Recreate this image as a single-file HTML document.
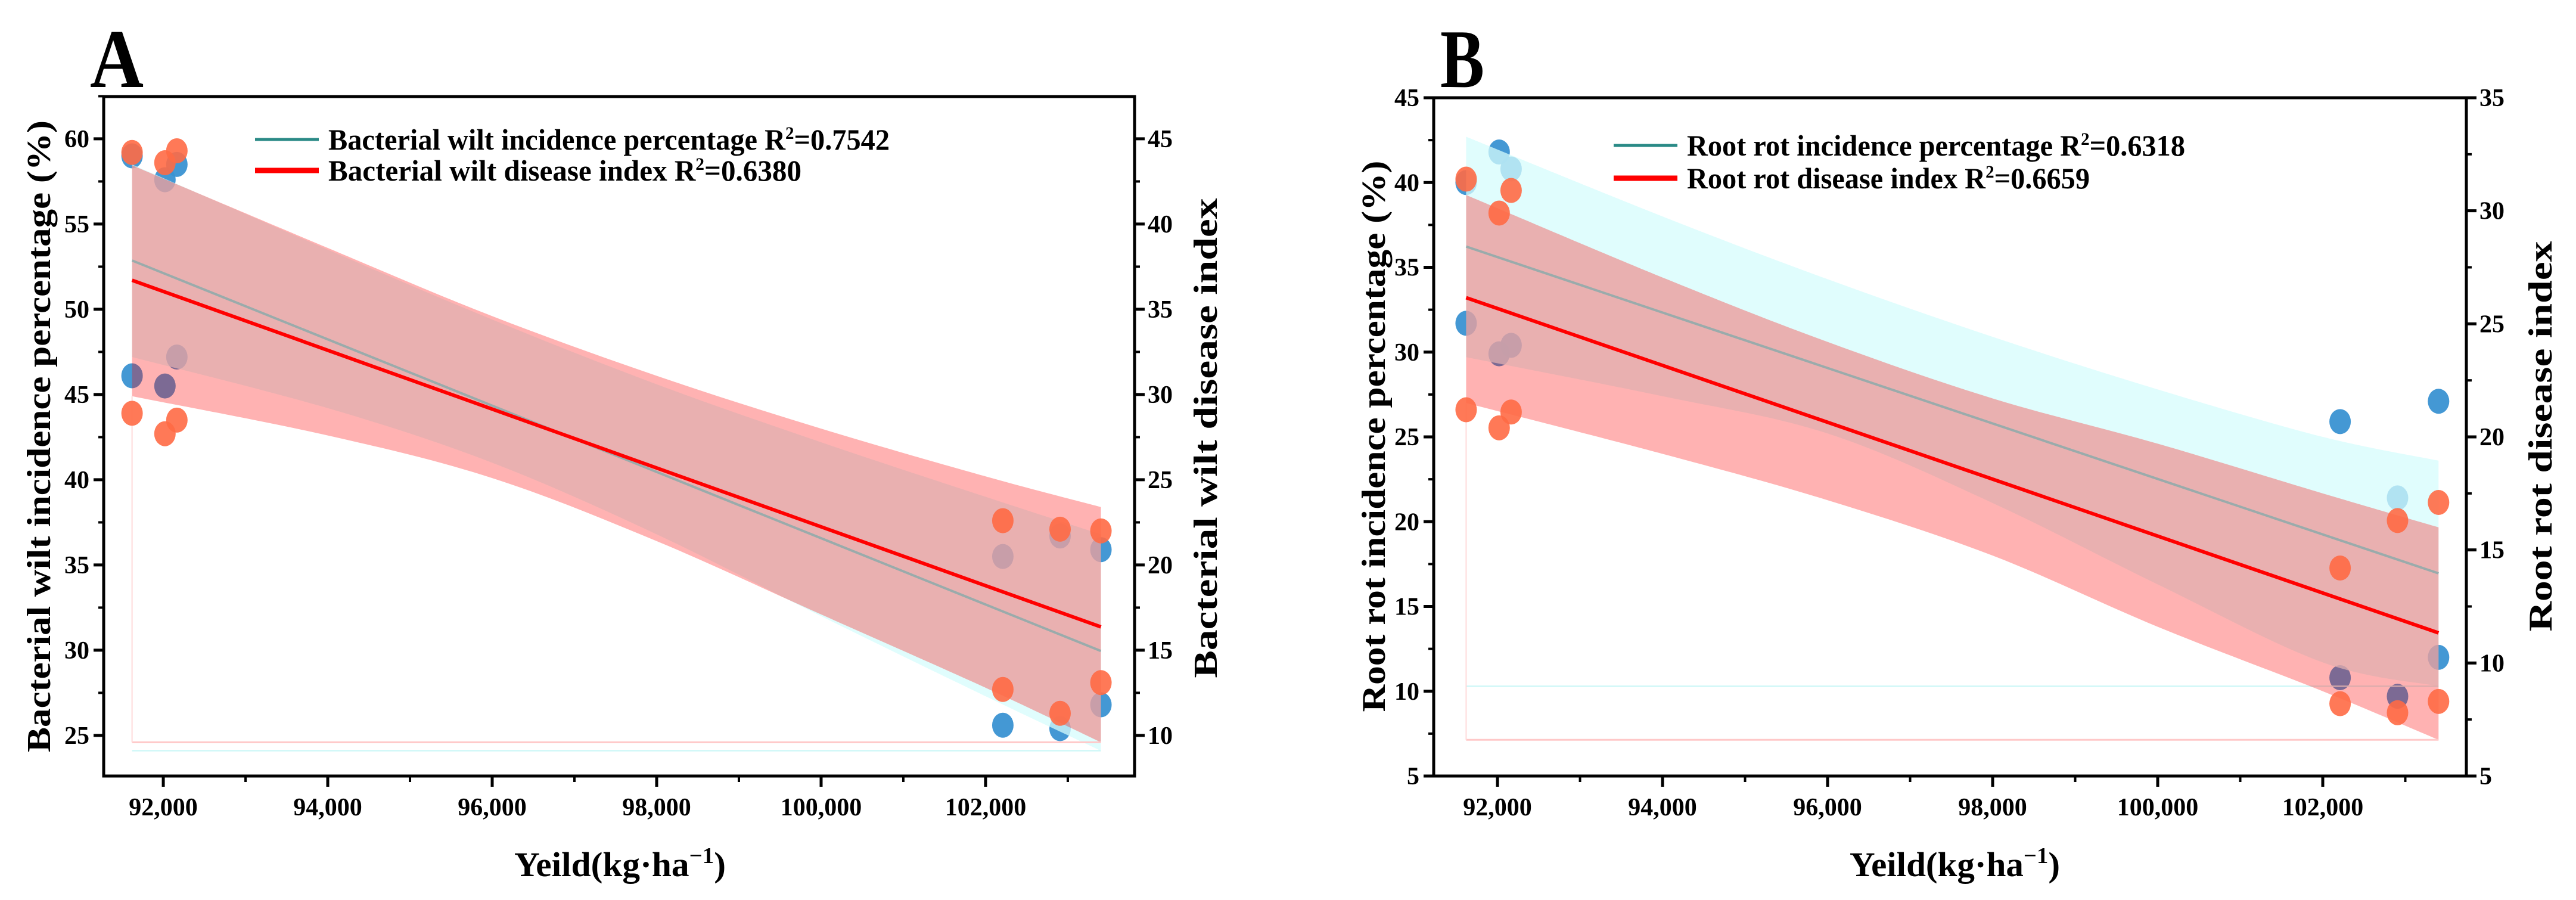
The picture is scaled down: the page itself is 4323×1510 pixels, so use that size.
<!DOCTYPE html>
<html><head><meta charset="utf-8"><style>
html,body{margin:0;padding:0;background:#fff;}
svg{display:block;}
text{font-family:"Liberation Serif",serif;font-weight:bold;fill:#000;}
</style></head><body>
<svg id="fig" xmlns="http://www.w3.org/2000/svg" width="4323" height="1510" viewBox="0 0 4323 1510">
<rect width="4323" height="1510" fill="#fff"/>
</svg>
<script>
// ---------- Panel A data ----------
const aYield = [91620, 91620, 92020, 92020, 92165, 92165, 102210, 102210, 102906, 102906, 103403, 103403];
const aIncidence = [59.0, 46.1, 57.6, 45.5, 58.5, 47.2, 25.6, 35.5, 25.4, 36.7, 26.8, 35.9];
const aDiseaseIndex = [44.2, 28.9, 43.6, 27.7, 44.3, 28.5, 22.6, 12.7, 22.1, 11.3, 22.0, 13.1];
const aBandX = [91620, 94000, 96000, 98000, 100000, 102000, 103403];
const aIncUpper = [58.5, 53.5, 49.4, 45.6, 42.2, 39.0, 36.8];
const aIncLower = [47.2, 44.2, 41.0, 36.8, 32.0, 27.3, 24.1];
const aDisUpper = [43.45, 38.6, 34.6, 31.1, 28.0, 25.2, 23.4];
const aDisLower = [29.9, 27.6, 25.1, 21.4, 17.1, 12.8, 9.6];
const aXTicks = [92000, 94000, 96000, 98000, 100000, 102000];
const aXTickLabels = ["92,000", "94,000", "96,000", "98,000", "100,000", "102,000"];
const aLeftTicks = [25, 30, 35, 40, 45, 50, 55, 60];
const aRightTicks = [10, 15, 20, 25, 30, 35, 40, 45];
// ---------- Panel B data ----------
const bYield = [91620, 91620, 92020, 92020, 92165, 92165, 102210, 102210, 102906, 102906, 103403, 103403];
const bIncidence = [40.0, 31.7, 41.8, 29.9, 40.8, 30.4, 25.9, 10.8, 21.4, 9.7, 27.1, 12.0];
const bDiseaseIndex = [31.4, 21.2, 29.9, 20.4, 30.9, 21.1, 14.2, 8.2, 16.3, 7.8, 17.1, 8.3];
const bBandX = [91620, 94000, 96000, 98000, 100000, 102000, 103403];
const bIncUpper = [42.7, 38.0, 34.3, 30.9, 27.8, 25.0, 23.6];
const bIncLower = [29.7, 27.4, 25.2, 21.1, 16.3, 11.7, 10.3];
const bDisUpper = [30.7, 27.05, 24.2, 21.7, 19.7, 17.5, 16.0];
const bDisLower = [21.5, 19.25, 17.2, 14.75, 11.6, 8.75, 6.6];
const bXTicks = [92000, 94000, 96000, 98000, 100000, 102000];
const bXTickLabels = ["92,000", "94,000", "96,000", "98,000", "100,000", "102,000"];
const bLeftTicks = [5, 10, 15, 20, 25, 30, 35, 40, 45];
const bRightTicks = [5, 10, 15, 20, 25, 30, 35];

const NS = "http://www.w3.org/2000/svg";
const svg = document.getElementById('fig');
function mk(tag, attrs, parent) {
  const e = document.createElementNS(NS, tag);
  for (const k in attrs) e.setAttribute(k, attrs[k]);
  (parent || svg).appendChild(e);
  return e;
}
function fit(xs, ys) {
  const n = xs.length;
  const mx = xs.reduce((a, b) => a + b, 0) / n, my = ys.reduce((a, b) => a + b, 0) / n;
  let sxy = 0, sxx = 0;
  for (let i = 0; i < n; i++) { sxy += (xs[i] - mx) * (ys[i] - my); sxx += (xs[i] - mx) * (xs[i] - mx); }
  const b = sxy / sxx;
  return { b: b, a: my - b * mx };
}
function smooth(pts) {
  let d = '';
  for (let i = 0; i < pts.length - 1; i++) {
    const p0 = pts[Math.max(0, i - 1)], p1 = pts[i], p2 = pts[i + 1], p3 = pts[Math.min(pts.length - 1, i + 2)];
    const c1x = p1[0] + (p2[0] - p0[0]) / 6, c1y = p1[1] + (p2[1] - p0[1]) / 6;
    const c2x = p2[0] - (p3[0] - p1[0]) / 6, c2y = p2[1] - (p3[1] - p1[1]) / 6;
    d += 'C' + c1x + ',' + c1y + ' ' + c2x + ',' + c2y + ' ' + p2[0] + ',' + p2[1];
  }
  return d;
}

function panel(cfg) {
  const g = mk('g', {});
  
  
  const X = v => cfg.x0 + (v - cfg.xmin) / (cfg.xmax - cfg.xmin) * (cfg.x1 - cfg.x0);
  const YL = v => cfg.y1 - (v - cfg.lmin) / (cfg.lmax - cfg.lmin) * (cfg.y1 - cfg.y0);
  const YR = v => cfg.y1 - (v - cfg.rmin) / (cfg.rmax - cfg.rmin) * (cfg.y1 - cfg.y0);
  const xs = cfg.yield;
  const xa = Math.min(...xs), xb = Math.max(...xs);

  const gb = mk('g', {}, g);
  
  
  for (let i = 0; i < xs.length; i++) {
    const c = mk('ellipse', { cx: X(xs[i]), cy: YL(cfg.inc[i]), rx: 18, ry: 21, fill: '#3a92d2', 'fill-opacity': 0.95 }, gb);
    
    
  }
  function band(bx, up, lo, Y, fill, op, name) {
    const U = bx.map((x, i) => [X(x), Y(up[i])]);
    const Lw = bx.map((x, i) => [X(x), Y(lo[i])]).reverse();
    const d = 'M' + U[0][0] + ',' + U[0][1] + smooth(U) + 'L' + Lw[0][0] + ',' + Lw[0][1] + smooth(Lw) + 'Z';
    const p = mk('path', { d: d, fill: fill, 'fill-opacity': op }, g);
    
    
  }
  const minInc = Math.min(...cfg.incLo), minDis = Math.min(...cfg.disLo);
  mk('line', { x1: X(xa), x2: X(xb), y1: YL(minInc), y2: YL(minInc), stroke: '#c8f6f6', 'stroke-width': 2 }, g);
  band(cfg.bandX, cfg.incUp, cfg.incLo, YL, '#d6fcfc', 0.75, 'incidence-confidence-band');
  band(cfg.bandX, cfg.disUp, cfg.disLo, YR, '#ff0000', 0.3, 'disease-index-confidence-band');
  mk('line', { x1: X(xa), x2: X(xb), y1: YR(minDis), y2: YR(minDis), stroke: '#ffc8c8', 'stroke-width': 3 }, g);
  mk('line', { x1: X(xa), x2: X(xa), y1: YR(cfg.disLo[0]), y2: YR(minDis), stroke: '#ffdada', 'stroke-width': 2 }, g);
  const ft = fit(xs, cfg.inc);
  const tl = mk('line', { x1: X(xa), y1: YL(ft.a + ft.b * xa), x2: X(xb), y2: YL(ft.a + ft.b * xb), stroke: '#9aabab', 'stroke-width': 4 }, g);
  
  
  const fr = fit(xs, cfg.dis);
  const rl = mk('line', { x1: X(xa), y1: YR(fr.a + fr.b * xa), x2: X(xb), y2: YR(fr.a + fr.b * xb), stroke: '#ff0000', 'stroke-width': 6 }, g);
  
  
  const go = mk('g', {}, g);
  
  
  for (let i = 0; i < xs.length; i++) {
    const c = mk('ellipse', { cx: X(xs[i]), cy: YR(cfg.dis[i]), rx: 18, ry: 21, fill: '#ff6a45', 'fill-opacity': 0.9 }, go);
    
    
  }
  const fr2 = mk('rect', { x: cfg.x0, y: cfg.y0, width: cfg.x1 - cfg.x0, height: cfg.y1 - cfg.y0, fill: 'none', stroke: '#000', 'stroke-width': 5 }, g);
  
  
  for (let i = 0; i < cfg.xTicks.length; i++) {
    const v = cfg.xTicks[i];
    mk('line', { x1: X(v), x2: X(v), y1: cfg.y1, y2: cfg.y1 + 18, stroke: '#000', 'stroke-width': 5 }, g);
    mk('line', { x1: X(v + 1000), x2: X(v + 1000), y1: cfg.y1, y2: cfg.y1 + 10, stroke: '#000', 'stroke-width': 4 }, g);
    const t = mk('text', { x: X(v), y: cfg.y1 + 66, 'font-size': 42, 'text-anchor': 'middle' }, g);
    t.textContent = cfg.xLabels[i];
    
    
  }
  cfg.lTicks.forEach(v => {
    mk('line', { x1: cfg.x0 - 17, x2: cfg.x0, y1: YL(v), y2: YL(v), stroke: '#000', 'stroke-width': 5 }, g);
    if (v - 2.5 > cfg.lmin) mk('line', { x1: cfg.x0 - 9, x2: cfg.x0, y1: YL(v - 2.5), y2: YL(v - 2.5), stroke: '#000', 'stroke-width': 4 }, g);
    const t = mk('text', { x: cfg.x0 - 24, y: YL(v) + 14, 'font-size': 42, 'text-anchor': 'end' }, g);
    t.textContent = v;
    
    
  });
  if (cfg.lmax - cfg.lTicks[cfg.lTicks.length - 1] > 2.4) mk('line', { x1: cfg.x0 - 9, x2: cfg.x0, y1: YL(cfg.lTicks[cfg.lTicks.length - 1] + 2.5), y2: YL(cfg.lTicks[cfg.lTicks.length - 1] + 2.5), stroke: '#000', 'stroke-width': 4 }, g);
  cfg.rTicks.forEach(v => {
    mk('line', { x1: cfg.x1, x2: cfg.x1 + 17, y1: YR(v), y2: YR(v), stroke: '#000', 'stroke-width': 5 }, g);
    if (v - 2.5 > cfg.rmin) mk('line', { x1: cfg.x1, x2: cfg.x1 + 9, y1: YR(v - 2.5), y2: YR(v - 2.5), stroke: '#000', 'stroke-width': 4 }, g);
    const t = mk('text', { x: cfg.x1 + 22, y: YR(v) + 14, 'font-size': 42 }, g);
    t.textContent = v;
    
    
  });
  const L = mk('text', { x: cfg.letterX, y: 146, 'font-size': 140, textLength: cfg.letterW, lengthAdjust: 'spacingAndGlyphs' }, g);
  L.textContent = cfg.letter;
  
  
  const xt = mk('text', { x: cfg.xtX, y: 1470, 'font-size': 58, textLength: cfg.xtW, lengthAdjust: 'spacingAndGlyphs' }, g);
  xt.innerHTML = 'Yeild(kg·ha<tspan dy="-22" font-size="38">−1</tspan><tspan dy="22">)</tspan>';
  
  
  const yl = mk('text', { transform: 'translate(' + cfg.ylX + ',' + cfg.ylC + ') rotate(-90)', 'font-size': 56, 'text-anchor': 'middle', textLength: cfg.ylW, lengthAdjust: 'spacingAndGlyphs' }, g);
  yl.textContent = cfg.ylText;
  
  
  const yr = mk('text', { transform: 'translate(' + cfg.yrX + ',' + cfg.yrC + ') rotate(-90)', 'font-size': 56, 'text-anchor': 'middle', textLength: cfg.yrW, lengthAdjust: 'spacingAndGlyphs' }, g);
  yr.textContent = cfg.yrText;
  
  
  const lg = mk('g', {}, g);
  
  
  mk('line', { x1: cfg.lgX, x2: cfg.lgX + 107, y1: cfg.lgY1, y2: cfg.lgY1, stroke: '#2a8a86', 'stroke-width': 5 }, lg);
  mk('line', { x1: cfg.lgX, x2: cfg.lgX + 107, y1: cfg.lgY2, y2: cfg.lgY2, stroke: '#ff0000', 'stroke-width': 9 }, lg);
  const e1 = mk('text', { x: cfg.lgX + 123, y: cfg.lgY1 + 17, 'font-size': 50, textLength: cfg.lgW1, lengthAdjust: 'spacingAndGlyphs' }, lg);
  e1.innerHTML = cfg.lg1 + '<tspan dy="-18" font-size="30">2</tspan><tspan dy="18">' + cfg.lg1v + '</tspan>';
  
  
  const e2 = mk('text', { x: cfg.lgX + 123, y: cfg.lgY2 + 17, 'font-size': 50, textLength: cfg.lgW2, lengthAdjust: 'spacingAndGlyphs' }, lg);
  e2.innerHTML = cfg.lg2 + '<tspan dy="-18" font-size="30">2</tspan><tspan dy="18">' + cfg.lg2v + '</tspan>';
  
  
}

panel({
  id: 'a', letter: 'A', letterX: 151, letterW: 90,
  x0: 174, x1: 1904, y0: 162, y1: 1302,
  xmin: 91275, xmax: 103812, lmin: 22.62, lmax: 62.48, rmin: 7.62, rmax: 47.48,
  yield: aYield, inc: aIncidence, dis: aDiseaseIndex,
  bandX: aBandX, incUp: aIncUpper, incLo: aIncLower, disUp: aDisUpper, disLo: aDisLower,
  xTicks: aXTicks, xLabels: aXTickLabels, lTicks: aLeftTicks, rTicks: aRightTicks,
  xtX: 863, xtW: 355,
  ylX: 84, ylC: 732, ylW: 1060, ylText: 'Bacterial wilt incidence percentage (%)',
  yrX: 2042, yrC: 735, yrW: 805, yrText: 'Bacterial wilt disease index',
  lgX: 428, lgY1: 234, lgY2: 286, lgW1: 942, lgW2: 794,
  lg1: 'Bacterial wilt incidence percentage R', lg1v: '=0.7542',
  lg2: 'Bacterial wilt disease index  R', lg2v: '=0.6380'
});
panel({
  id: 'b', letter: 'B', letterX: 2417, letterW: 74,
  x0: 2406, x1: 4139, y0: 164, y1: 1302,
  xmin: 91227, xmax: 103740, lmin: 5, lmax: 45, rmin: 5, rmax: 35,
  yield: bYield, inc: bIncidence, dis: bDiseaseIndex,
  bandX: bBandX, incUp: bIncUpper, incLo: bIncLower, disUp: bDisUpper, disLo: bDisLower,
  xTicks: bXTicks, xLabels: bXTickLabels, lTicks: bLeftTicks, rTicks: bRightTicks,
  xtX: 3104, xtW: 353,
  ylX: 2324, ylC: 732, ylW: 925, ylText: 'Root rot incidence percentage (%)',
  yrX: 4282, yrC: 732, yrW: 655, yrText: 'Root rot disease index',
  lgX: 2708, lgY1: 244, lgY2: 299, lgW1: 836, lgW2: 676,
  lg1: 'Root rot incidence percentage R', lg1v: '=0.6318',
  lg2: 'Root rot disease index R', lg2v: '=0.6659'
});
</script>
</body></html>
